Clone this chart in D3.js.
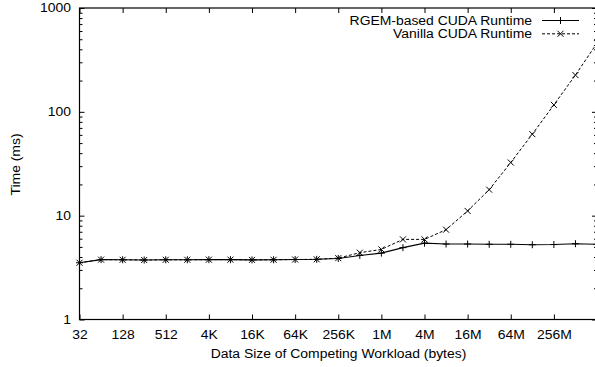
<!DOCTYPE html>
<html>
<head>
<meta charset="utf-8">
<script src="https://cdn.jsdelivr.net/npm/d3@7"></script>
<style>
  body { margin: 0; background: #fff; }
  svg text { font-family: "Liberation Sans", Arial, sans-serif; font-size: 12px; fill: #000; }
</style>
</head>
<body>
<div id="chart"></div>
<script>
// data sizes of competing workload (bytes)
const sizes = ["32", "64", "128", "256", "512", "2K", "4K", "8K", "16K", "32K", "64K", "128K",
  "256K", "512K", "1M", "2M", "4M", "8M", "16M", "32M", "64M", "128M", "256M", "512M", "1G"];
const xTickLabels = ["32", "128", "512", "4K", "16K", "64K", "256K", "1M", "4M", "16M", "64M", "256M"];
const yTicks = [1, 10, 100, 1000];

const rgemTimes = [3.52, 3.77, 3.76, 3.74, 3.76, 3.76, 3.77, 3.77, 3.75, 3.76, 3.78, 3.80,
  3.87, 4.14, 4.36, 4.92, 5.44, 5.33, 5.33, 5.30, 5.30, 5.25, 5.27, 5.37, 5.30];
const vanillaTimes = [3.52, 3.77, 3.76, 3.74, 3.76, 3.76, 3.77, 3.77, 3.75, 3.76, 3.78, 3.80,
  3.90, 4.40, 4.73, 5.91, 5.91, 7.33, 11.1, 17.8, 32.5, 60.9, 116.7, 226, 459];

const W = 595, H = 367;
const plotL = 79.5, plotR = 597, plotT = 8, plotB = 319.5;
const stretch = 1.16; // glyphs in the original are wider than Helvetica at this height

const svg = d3.select("#chart").append("svg")
  .attr("width", W)
  .attr("height", H);

const x = d3.scalePoint()
  .domain(sizes)
  .range([plotL, plotR]);

const y = d3.scaleLog()
  .domain([1, 1000])
  .range([plotB, plotT]);

// minor ticks on the log axis
const minor = [];
[1, 10, 100].forEach(d => { for (let k = 2; k <= 9; k++) minor.push(d * k); });

// bottom axis
svg.append("g")
  .attr("transform", "translate(0," + plotB + ")")
  .call(d3.axisBottom(x).tickValues(xTickLabels).tickSizeInner(-5).tickSizeOuter(0).tickPadding(11));
// top axis, ticks only
svg.append("g")
  .attr("transform", "translate(0," + plotT + ")")
  .call(d3.axisTop(x).tickValues(xTickLabels).tickSizeInner(-5).tickSizeOuter(0).tickFormat(""));

// left axis
svg.append("g")
  .attr("transform", "translate(" + plotL + ",0)")
  .call(d3.axisLeft(y).tickValues(yTicks).tickFormat(d3.format("d")).tickSizeInner(-5).tickSizeOuter(0).tickPadding(7.3));
svg.append("g")
  .attr("transform", "translate(" + plotL + ",0)")
  .call(d3.axisLeft(y).tickValues(minor).tickFormat("").tickSizeInner(-3).tickSizeOuter(0));
// right axis
svg.append("g")
  .attr("transform", "translate(" + plotR + ",0)")
  .call(d3.axisRight(y).tickValues(yTicks).tickFormat("").tickSizeInner(-5).tickSizeOuter(0));
svg.append("g")
  .attr("transform", "translate(" + plotR + ",0)")
  .call(d3.axisRight(y).tickValues(minor).tickFormat("").tickSizeInner(-3).tickSizeOuter(0));

svg.selectAll(".domain").remove();
svg.selectAll(".tick line").attr("stroke", "#000").attr("stroke-width", 1);
svg.selectAll(".tick text")
  .style("font-size", "12px")
  .attr("fill", "#000")
  .attr("transform", "scale(" + stretch + ",1)");

// plot border
svg.append("rect")
  .attr("x", plotL)
  .attr("y", plotT)
  .attr("width", plotR - plotL)
  .attr("height", plotB - plotT)
  .attr("fill", "none")
  .attr("stroke", "#000")
  .attr("stroke-width", 1.2);

const line = d3.line()
  .x((d, i) => x(sizes[i]))
  .y(d => y(d));

const plusPath = s => "M" + (-s) + ",0H" + s + "M0," + (-s) + "V" + s;
const crossPath = s => "M" + (-s) + "," + (-s) + "L" + s + "," + s + "M" + (-s) + "," + s + "L" + s + "," + (-s);

// vanilla (dashed, x markers)
svg.append("path")
  .datum(vanillaTimes)
  .attr("d", line)
  .attr("fill", "none")
  .attr("stroke", "#000")
  .attr("stroke-width", 1)
  .attr("stroke-dasharray", "3,2");
svg.selectAll(".vpt")
  .data(vanillaTimes)
  .enter()
  .append("path")
  .attr("transform", (d, i) => "translate(" + x(sizes[i]) + "," + y(d) + ")")
  .attr("d", crossPath(3))
  .attr("stroke", "#000")
  .attr("stroke-width", 1);

// RGEM (solid, + markers)
svg.append("path")
  .datum(rgemTimes)
  .attr("d", line)
  .attr("fill", "none")
  .attr("stroke", "#000")
  .attr("stroke-width", 1.1);
svg.selectAll(".rpt")
  .data(rgemTimes)
  .enter()
  .append("path")
  .attr("transform", (d, i) => "translate(" + x(sizes[i]) + "," + y(d) + ")")
  .attr("d", plusPath(3.5))
  .attr("stroke", "#000")
  .attr("stroke-width", 1);

// legend
const legend = [
  { name: "RGEM-based CUDA Runtime", dash: null, mark: plusPath(3.5) },
  { name: "Vanilla CUDA Runtime", dash: "3,2", mark: crossPath(3) }
];
legend.forEach((l, i) => {
  const ly = 20.5 + i * 13.3;
  svg.append("text")
    .attr("transform", "translate(532," + ly + ") scale(" + stretch + ",1)")
    .attr("dy", "0.35em")
    .attr("text-anchor", "end")
    .text(l.name);
  svg.append("line")
    .attr("x1", 542).attr("x2", 579)
    .attr("y1", ly).attr("y2", ly)
    .attr("stroke", "#000")
    .attr("stroke-width", 1)
    .attr("stroke-dasharray", l.dash);
  svg.append("path")
    .attr("transform", "translate(560.5," + ly + ")")
    .attr("d", l.mark)
    .attr("stroke", "#000");
});

// axis titles
svg.append("text")
  .attr("transform", "translate(338.5,358) scale(" + stretch + ",1)")
  .attr("text-anchor", "middle")
  .text("Data Size of Competing Workload (bytes)");
svg.append("text")
  .attr("transform", "translate(20,164.5) rotate(-90) scale(" + stretch + ",1)")
  .attr("text-anchor", "middle")
  .text("Time (ms)");
</script>
</body>
</html>
